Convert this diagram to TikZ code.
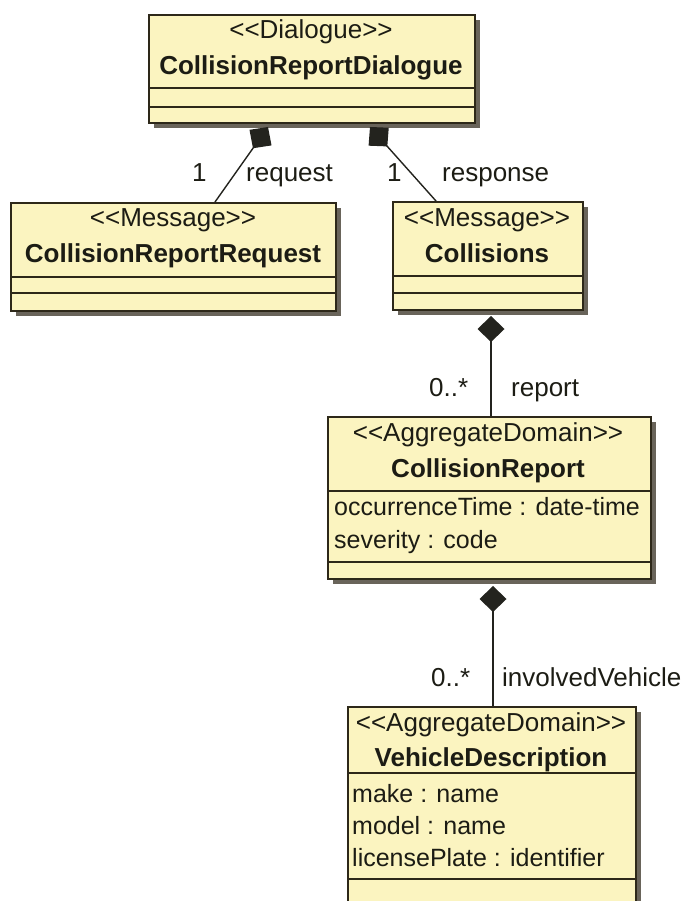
\documentclass[tikz,border=0pt]{standalone}
\usepackage{fontspec}
\setmainfont{Liberation Sans}
\usetikzlibrary{arrows.meta,shadows}
\definecolor{boxfill}{RGB}{251,244,192}
\definecolor{boxline}{RGB}{45,40,25}
\definecolor{shadowcol}{RGB}{105,100,90}
\definecolor{txtcol}{RGB}{28,28,20}
\definecolor{conncol}{RGB}{35,35,30}
\tikzset{
  umlbox/.style={draw=boxline, line width=1.8pt, fill=boxfill, rectangle, inner sep=0pt, anchor=north west,
    drop shadow={shadow xshift=5pt, shadow yshift=-5pt, fill=shadowcol, opacity=1}},
  divider/.style={draw=boxline, line width=1.6pt},
  basetext/.style={inner sep=0pt, text=txtcol, font=\fontsize{26pt}{31pt}\selectfont},
  stereo/.style={basetext, anchor=base},
  clsname/.style={basetext, anchor=base, font=\fontsize{26pt}{31pt}\selectfont\bfseries},
  attr/.style={basetext, anchor=base west, font=\fontsize{25pt}{30pt}\selectfont},
  lbl/.style={basetext, anchor=base west},
  comp/.style={draw=conncol, line width=1.4pt, {Diamond[length=26pt,width=27pt]}-},
}
\begin{document}
\begin{tikzpicture}[x=1pt,y=-1pt]
\useasboundingbox (0,0) rectangle (695,901);

% ---- boxes ----
\node[umlbox, minimum width=326pt, minimum height=108pt] (b1) at (148,14) {};
\node[umlbox, minimum width=325pt, minimum height=108pt] (b2) at (10,202) {};
\node[umlbox, minimum width=190pt, minimum height=108pt] (b3) at (392,201) {};
\node[umlbox, minimum width=323pt, minimum height=162pt] (b4) at (327,416) {};
\node[umlbox, minimum width=288pt, minimum height=214pt] (b5) at (347,706) {};

% ---- dividers ----
\draw[divider] (148,88) -- (474,88);
\draw[divider] (148,107) -- (474,107);
\draw[divider] (10,277) -- (335,277);
\draw[divider] (10,293) -- (335,293);
\draw[divider] (392,276) -- (582,276);
\draw[divider] (392,293) -- (582,293);
\draw[divider] (327,491) -- (650,491);
\draw[divider] (327,562) -- (650,562);
\draw[divider] (347,773) -- (635,773);
\draw[divider] (347,879) -- (635,879);

% ---- texts ----
\node[stereo] (b1s) at (311,39) {{<}{<}Dialogue{>}{>}};
\node[clsname] (b1n) at (311,75) {CollisionReportDialogue};

\node[stereo] (b2s) at (173,226) {{<}{<}Message{>}{>}};
\node[clsname] (b2n) at (173,262) {CollisionReportRequest};

\node[stereo] (b3s) at (487,226) {{<}{<}Message{>}{>}};
\node[clsname] (b3n) at (487,262) {Collisions};

\node[stereo] (b4s) at (488,441) {{<}{<}AggregateDomain{>}{>}};
\node[clsname] (b4n) at (488,477) {CollisionReport};
\node[attr] (b4a1) at (334,515) {occurrenceTime : date-time};
\node[attr] (b4a2) at (334,548) {severity : code};

\node[stereo] (b5s) at (491,731) {{<}{<}AggregateDomain{>}{>}};
\node[clsname] (b5n) at (491,766) {VehicleDescription};
\node[attr] (b5a1) at (352,802) {make : name};
\node[attr] (b5a2) at (352,834) {model : name};
\node[attr] (b5a3) at (352,866) {licensePlate : identifier};

% ---- connector end points ----
\coordinate (c1s) at (268,127);
\coordinate (c1e) at (215,202);
\coordinate (c2s) at (370,127);
\coordinate (c2e) at (436,201);
\coordinate (c3s) at (491,316);
\coordinate (c3e) at (491,416);
\coordinate (c4s) at (493,586);
\coordinate (c4e) at (493,706);

\draw[comp] (c1s) -- (c1e);
\draw[comp] (c2s) -- (c2e);
\draw[comp] (c3s) -- (c3e);
\draw[comp] (c4s) -- (c4e);

% ---- connector labels ----
\node[lbl] (m1) at (192,182) {1};
\node[lbl] (r1) at (246,182) {request};
\node[lbl] (m2) at (387,182) {1};
\node[lbl] (r2) at (442,182) {response};
\node[lbl] (m3) at (429,396) {0..*};
\node[lbl] (r3) at (511,396) {report};
\node[lbl] (m4) at (431,686) {0..*};
\node[lbl] (r4) at (502,686) {involvedVehicle};
\end{tikzpicture}
\end{document}
